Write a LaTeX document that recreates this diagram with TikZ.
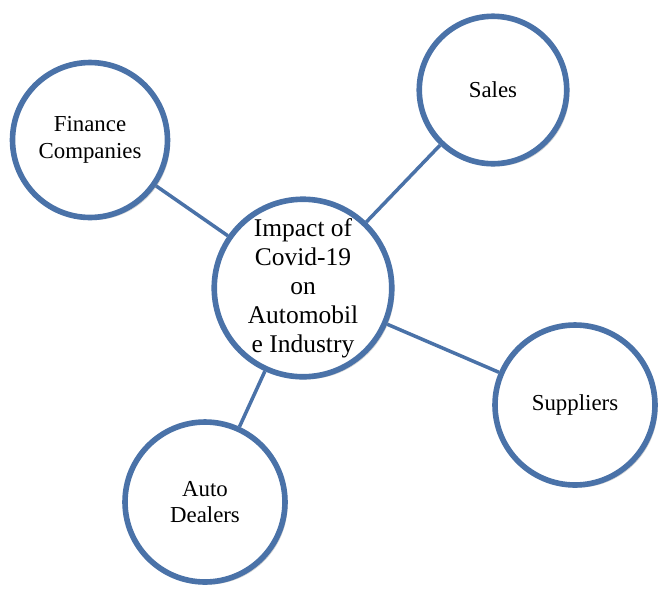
\documentclass[tikz,border=0pt]{standalone}
\usepackage{fontspec}
\setmainfont{Liberation Serif}
\usetikzlibrary{backgrounds,shadows}
\definecolor{rim}{HTML}{4A72A8}
\tikzstyle{topic}=[draw=rim,line width=3.2pt,fill=white,circle,inner sep=0pt,align=center,
  font=\fontsize{13}{15}\selectfont,drop shadow={shadow xshift=1.5pt,shadow yshift=-1.5pt,opacity=.35}]
\begin{document}
\begin{tikzpicture}[x=0.02cm,y=-0.02cm]
\useasboundingbox (0,0) rectangle (669,596);
\node [topic,minimum size=3.4cm,font=\fontsize{14.5}{16.5}\selectfont] (core) at (303,288)
  {Impact of\\Covid-19\\on\\Automobil\\e Industry};
\node [topic,minimum size=2.95cm] (sales) at (493,90) {Sales};
\node [topic,minimum size=3.1cm] (fin) at (90,140) {Finance\\Companies};
\node [topic,minimum size=3.2cm] (sup) at (575,405) {Suppliers};
\node [topic,minimum size=3.2cm] (auto) at (205,502) {Auto\\Dealers};

\begin{scope}[on background layer]
\draw[rim,line width=2pt] (core) -- (sales);
\draw[rim,line width=2pt] (core) -- (fin);
\draw[rim,line width=2pt] (core) -- (sup);
\draw[rim,line width=2pt] (core) -- (auto);
\end{scope}
\end{tikzpicture}
\end{document}
